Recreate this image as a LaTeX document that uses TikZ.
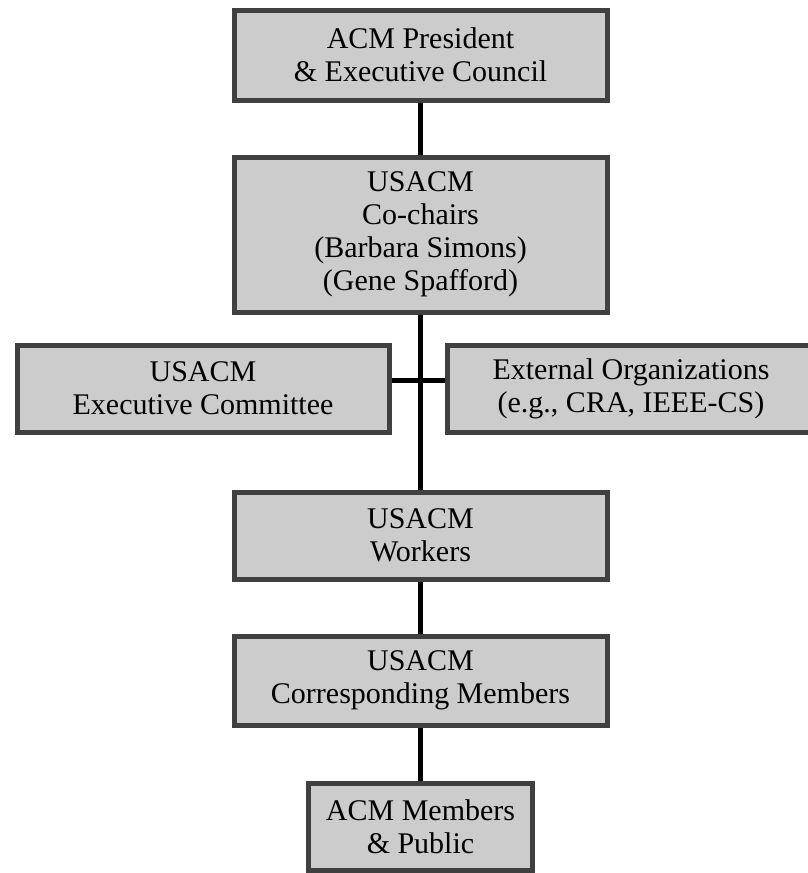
\documentclass[tikz,border=0pt]{standalone}
\usepackage{fontspec}
\setmainfont{Liberation Serif}
\definecolor{fond}{HTML}{CCCCCC}
\definecolor{bord}{HTML}{404040}
\begin{document}
\begin{tikzpicture}[x=1pt,y=-1pt]
	\tikzset{boite/.style={rectangle, draw=bord, fill=fond, line width=5pt, inner sep=0pt, align=center, font=\fontsize{30}{33}\selectfont}, trait/.style={line width=5pt, draw=black}};
	\useasboundingbox (0,0) rectangle (808,873);
	\node[boite, minimum width=373pt, minimum height=90pt] (pres) at (420.5,55) {ACM President\\ \& Executive Council};
	\node[boite, minimum width=373pt, minimum height=155pt] (chairs) at (420.5,234.5) {USACM\\ Co-chairs\\ (Barbara Simons)\\ (Gene Spafford)};
	\node[boite, minimum width=372pt, minimum height=87pt] (exec) at (203,388.5) {USACM\\ Executive Committee};
	\node[boite, minimum width=368pt, minimum height=87pt] (ext) at (631,388.5) {External Organizations\\ (e.g., CRA, IEEE-CS)};
	\node[boite, minimum width=373pt, minimum height=87pt] (workers) at (420.5,535.5) {USACM\\ Workers};
	\node[boite, minimum width=373pt, minimum height=89pt] (corr) at (420.5,680.5) {USACM\\ Corresponding Members};
	\node[boite, minimum width=224pt, minimum height=87pt] (public) at (420.5,826.5) {ACM Members\\ \& Public};
	\coordinate (croix) at (420.5,380);

	\draw[trait] (pres) -- (chairs);
	\draw[trait] (chairs) -- (workers);
	\draw[trait] (exec.east |- croix) -- (ext.west |- croix);
	\draw[trait] (workers) -- (corr);
	\draw[trait] (corr) -- (public);
\end{tikzpicture}
\end{document}
